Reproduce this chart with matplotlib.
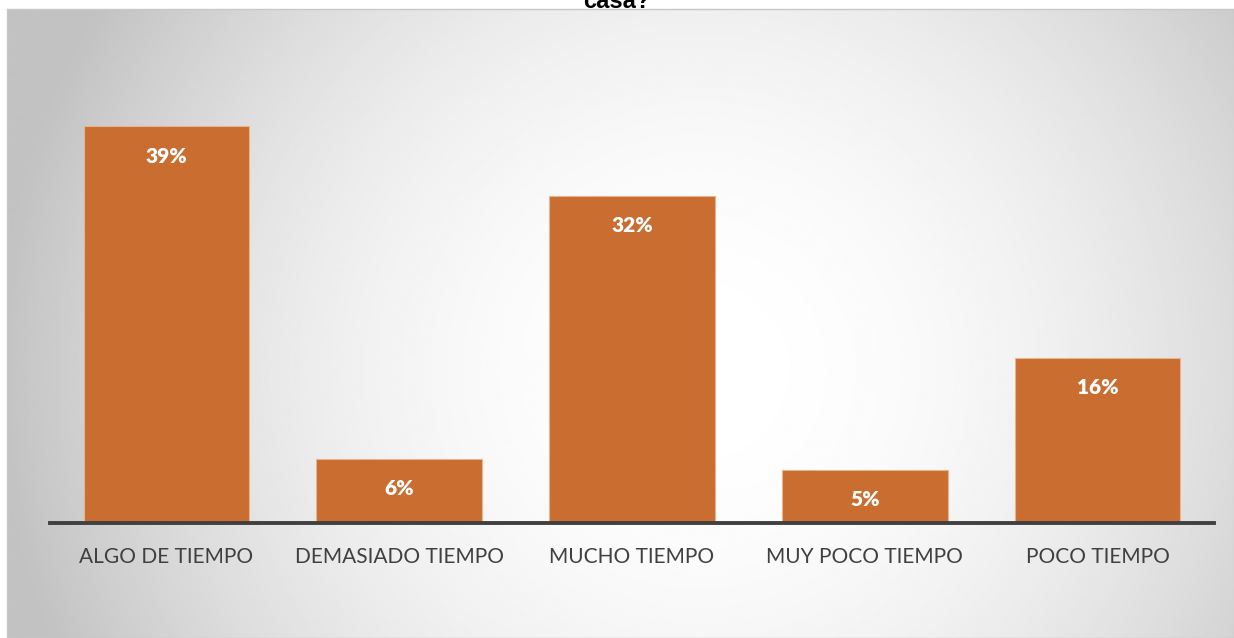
import matplotlib.pyplot as plt
import numpy as np

# Datos
categorias = ['ALGO DE TIEMPO', 'DEMASIADO TIEMPO', 'MUCHO TIEMPO',
              'MUY POCO TIEMPO', 'POCO TIEMPO']
porcentajes = [38.9, 6.3, 32.1, 5.2, 16.2]
titulo = 'casa?'

W, H = 1234, 638
fig = plt.figure(figsize=(W / 100, H / 100), dpi=100)
fig.patch.set_facecolor('white')

# Fondo con degradado radial (zona del grafico), en pixeles
bx0, by0 = 7, 9
bg = fig.add_axes([bx0 / W, 0, 1 - bx0 / W, 1 - by0 / H], zorder=0)
px, py = np.meshgrid(np.arange(bx0, W, 2), np.arange(by0, H, 2))
d = np.hypot(px - 700, py - 370)
gris = 1 - 0.21 * (d / 660) ** 2.0
gris = np.clip(gris, 0.76, 1)
bg.imshow(gris, cmap='gray', vmin=0, vmax=1, aspect='auto',
          extent=[0, 1, 0, 1], origin='upper', interpolation='bilinear')
bg.set_xlim(0, 1)
bg.set_ylim(0, 1)
bg.set_xticks([])
bg.set_yticks([])
for s in bg.spines.values():
    s.set_edgecolor('#c8c8c8')
    s.set_linewidth(1)

# Titulo cortado arriba (solo se ve la parte baja)
fig.text(0.5, 1 - 8 / H, titulo, ha='center', va='baseline', fontsize=17,
         fontweight='bold', family='Liberation Sans', color='black', zorder=5)

# Eje de barras
ax = fig.add_axes([50 / W, (H - 523) / H, (1214 - 50) / W, 408 / H], zorder=1)
ax.patch.set_alpha(0)
x = np.arange(len(categorias))
barras = ax.bar(x, porcentajes, width=0.712, color='#c96d31',
                edgecolor='#e8b48e', linewidth=0.8, zorder=2)
ax.set_xlim(-0.5, len(categorias) - 0.5)
ax.set_ylim(0, 40)

for b, v in zip(barras, porcentajes):
    ax.annotate(f'{v:.0f}%', (b.get_x() + b.get_width() / 2, b.get_height()),
                xytext=(0, -30), textcoords='offset pixels', ha='center',
                va='center', color='white', fontsize=15, fontweight='heavy',
                family='Lato', zorder=3)

for s in ['top', 'right', 'left']:
    ax.spines[s].set_visible(False)
ax.spines['bottom'].set_color('#404040')
ax.spines['bottom'].set_linewidth(2.8)
ax.spines['bottom'].set_zorder(4)
ax.set_yticks([])
ax.set_xticks(x)
ax.set_xticklabels(categorias, fontsize=15, color='#404040', family='Lato')
ax.tick_params(axis='x', length=0, pad=17)

fig.savefig('out.png', dpi=100)
